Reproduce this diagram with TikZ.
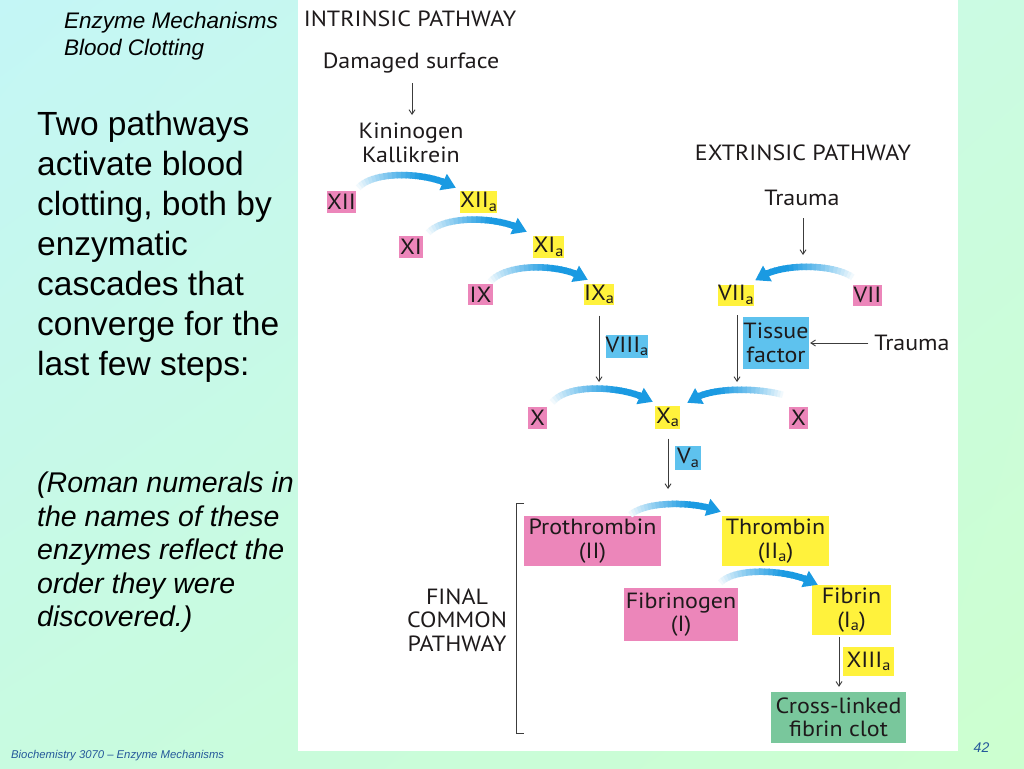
\documentclass[tikz,border=0pt]{standalone}
\usepackage{fontspec}
\setmainfont{Liberation Sans}
\newfontfamily\diagfont[FakeStretch=1.09]{PT Sans}
\usetikzlibrary{arrows.meta,calc,shadings}
\definecolor{pinkbox}{HTML}{EC86BA}
\definecolor{yelbox}{HTML}{FFF23C}
\definecolor{bluebox}{HTML}{5EC2EE}
\definecolor{greenbox}{HTML}{79C79C}
\definecolor{arrowblue}{HTML}{1A9AE2}
\definecolor{ink}{HTML}{1E1A1B}
\definecolor{grayline}{HTML}{3C3C3C}
\definecolor{footblue}{HTML}{24589A}
\definecolor{bgul}{HTML}{C4F6F6}
\definecolor{bgur}{HTML}{CBFBE2}
\definecolor{bgll}{HTML}{C8FBE0}
\definecolor{bglr}{HTML}{CCFFCF}
\newcommand\subA{\raisebox{-0.3ex}{\fontsize{15}{15}\selectfont a}}
\newcommand\gradarrow[4]{%
  \foreach \i in {0,...,21}{%
    \pgfmathsetmacro\pa{\i/25}%
    \pgfmathsetmacro\pb{(\i+1.3)/25}%
    \pgfmathtruncatemacro\pc{min(100,6+\i*6)}%
    \path #1 .. controls +#2 and +#3 .. #4 coordinate[pos=\pa] (ga) coordinate[pos=\pb] (gb);%
    \draw[line width=6.5pt, arrowblue!\pc!white] (ga) -- (gb);%
  }%
  \path #1 .. controls +#2 and +#3 .. #4 coordinate[pos=0.84] (ga);%
  \draw[line width=6.5pt, arrowblue, -{Triangle[length=14pt,width=17pt]}] (ga) -- #4;%
}
\begin{document}
\begin{tikzpicture}[x=1pt,y=-1pt,
  txt/.style={font=\diagfont\fontsize{22}{23.5}\selectfont, text=ink, align=center, inner sep=0pt},
  sz/.style 2 args={minimum width=#1pt, minimum height=#2pt},
  pbox/.style={txt, fill=pinkbox},
  ybox/.style={txt, fill=yelbox},
  bbox/.style={txt, fill=bluebox},
  gbox/.style={txt, fill=greenbox},
  garrow/.style={draw=grayline, line width=0.9pt, -{Straight Barb[length=4.5pt,width=6pt]}}]
\useasboundingbox (0,0) rectangle (1024,768);
% background
\shade[upper left=bgul, upper right=bgur, lower left=bgll, lower right=bglr] (0,0) rectangle (1024,768);
\fill[white] (298,0) rectangle (958,751);

% slide texts
\node[anchor=north west, inner sep=0pt, align=left, font=\itshape\fontsize{22.5}{27}\selectfont] (hdr) at (64,12) {Enzyme Mechanisms\\Blood Clotting};
\node[anchor=north west, inner sep=0pt, align=left, font=\fontsize{33.5}{40}\selectfont] (main) at (37,111) {Two pathways\\activate blood\\clotting, both by\\enzymatic\\cascades that\\converge for the\\last few steps:};
\node[anchor=north west, inner sep=0pt, align=left, font=\itshape\fontsize{28.5}{33.5}\selectfont] (note) at (37,472) {(Roman numerals in\\the names of these\\enzymes reflect the\\order they were\\discovered.)};
\node[anchor=base west, inner sep=0pt, font=\itshape\fontsize{11.3}{13}\selectfont, text=footblue] (foot) at (11,758) {Biochemistry 3070 – Enzyme Mechanisms};
\node[inner sep=0pt, font=\itshape\fontsize{14}{14}\selectfont, text=footblue] (pg) at (981.5,748) {42};

% diagram labels
\node[txt] (intr) at (410,19) {INTRINSIC PATHWAY};
\node[txt] (dmg) at (411,63) {Damaged surface};
\node[txt] (kin) at (411,143) {Kininogen\\Kallikrein};
\node[txt] (extr) at (803,153) {EXTRINSIC PATHWAY};
\node[txt] (tr1) at (802,198) {Trauma};
\node[txt] (tr2) at (912,343) {Trauma};
\node[txt] (fcp) at (457,620) {FINAL\\COMMON\\PATHWAY};

% boxes
\node[pbox, sz={29}{22}] (XII) at (341.5,202) {XII};
\node[ybox, sz={35}{22}] (XIIa) at (478.5,202) {XII\subA};
\node[pbox, sz={24}{22}] (XI) at (411,247) {XI};
\node[ybox, sz={31}{22}] (XIa) at (548.5,247) {XI\subA};
\node[pbox, sz={25}{21}] (IX) at (480.5,294.5) {IX};
\node[ybox, sz={30}{21}] (IXa) at (599,294.5) {IX\subA};
\node[bbox, sz={42}{23}] (VIIIa) at (627,346.5) {VIII\subA};
\node[pbox, sz={19}{22}] (Xl) at (537.5,417.5) {X};
\node[ybox, sz={25}{23}] (Xa) at (667.5,417.5) {X\subA};
\node[pbox, sz={19}{22}] (Xr) at (798.5,418) {X};
\node[ybox, sz={36}{21}] (VIIa) at (736,295) {VII\subA};
\node[pbox, sz={29}{21}] (VII) at (867.5,295) {VII};
\node[bbox, sz={66}{52}] (TF) at (776,343) {Tissue\\factor};
\node[bbox, sz={26}{24}] (Va) at (688,458) {V\subA};
\node[pbox, sz={137}{50}] (Pro) at (592.5,541) {Prothrombin\\(II)};
\node[ybox, sz={107}{50}] (Thr) at (775.5,541) {Thrombin\\(II\subA)};
\node[pbox, sz={114}{53}] (Fbg) at (681,614.5) {Fibrinogen\\(I)};
\node[ybox, sz={79}{50}] (Fib) at (851.5,610) {Fibrin\\(I\subA)};
\node[ybox, sz={51}{29}] (XIIIa) at (868.5,661.5) {XIII\subA};
\node[gbox, sz={135}{51}] (Clot) at (838.5,717.5) {Cross-linked\\fibrin clot};

% free ends of gray arrows
\coordinate (c1) at (803,255);
\coordinate (c2) at (599,382);
\coordinate (c3) at (737,382);
\coordinate (c4) at (668,489);

% gray arrows
\draw[garrow] ($(dmg)+(1,20)$) -- ($(kin)+(1,-28)$);
\draw[garrow] ($(tr1)+(1,20)$) -- (c1);
\draw[garrow] ($(IXa)+(0,21)$) -- (c2);
\draw[garrow] ($(VIIa)+(1,20)$) -- (c3);
\draw[garrow, shorten <=6pt, shorten >=1pt] (tr2.west) -- (TF.east);
\draw[garrow] ($(Xa)+(0.5,21)$) -- (c4);
\draw[garrow] ($(Fib.south)+(-12.5,2)$) -- ($(Clot.north)+(0.5,-5)$);

% bracket
\draw[grayline, line width=1pt] (524,503) -- (516,503) -- (516,733) -- (524,733);

% blue activation arrows
\gradarrow{($(XII.north east)+(2,-3)$)}{(16,-18)}{(-26,-16)}{($(XIIa.north west)+(-4,-3)$)}
\gradarrow{($(XI.north east)+(5,-3)$)}{(16,-18)}{(-26,-16)}{($(XIa.north west)+(-6,-4)$)}
\gradarrow{($(IX.north east)+(-3,-2)$)}{(16,-19)}{(-26,-17)}{($(IXa.north west)+(4,-4)$)}
\gradarrow{($(Xl.north east)+(5,-4)$)}{(16,-20)}{(-26,-16)}{($(Xa.north west)+(-2,-4)$)}
\gradarrow{($(Xr.north west)+(-6,-12)$)}{(-20,-6)}{(22,-18)}{($(Xa.north east)+(7,-3)$)}
\gradarrow{($(VII.north west)+(0,-7)$)}{(-20,-14)}{(22,-18)}{($(VIIa.north east)+(1,-4)$)}
\gradarrow{($(Pro.north east)+(-31,-1)$)}{(18,-15)}{(-22,-10)}{($(Thr.north west)+(-1,-4)$)}
\gradarrow{($(Fbg.north east)+(-18,-5)$)}{(16,-17)}{(-24,-15)}{($(Fib.north west)+(6,0)$)}
\end{tikzpicture}
\end{document}
